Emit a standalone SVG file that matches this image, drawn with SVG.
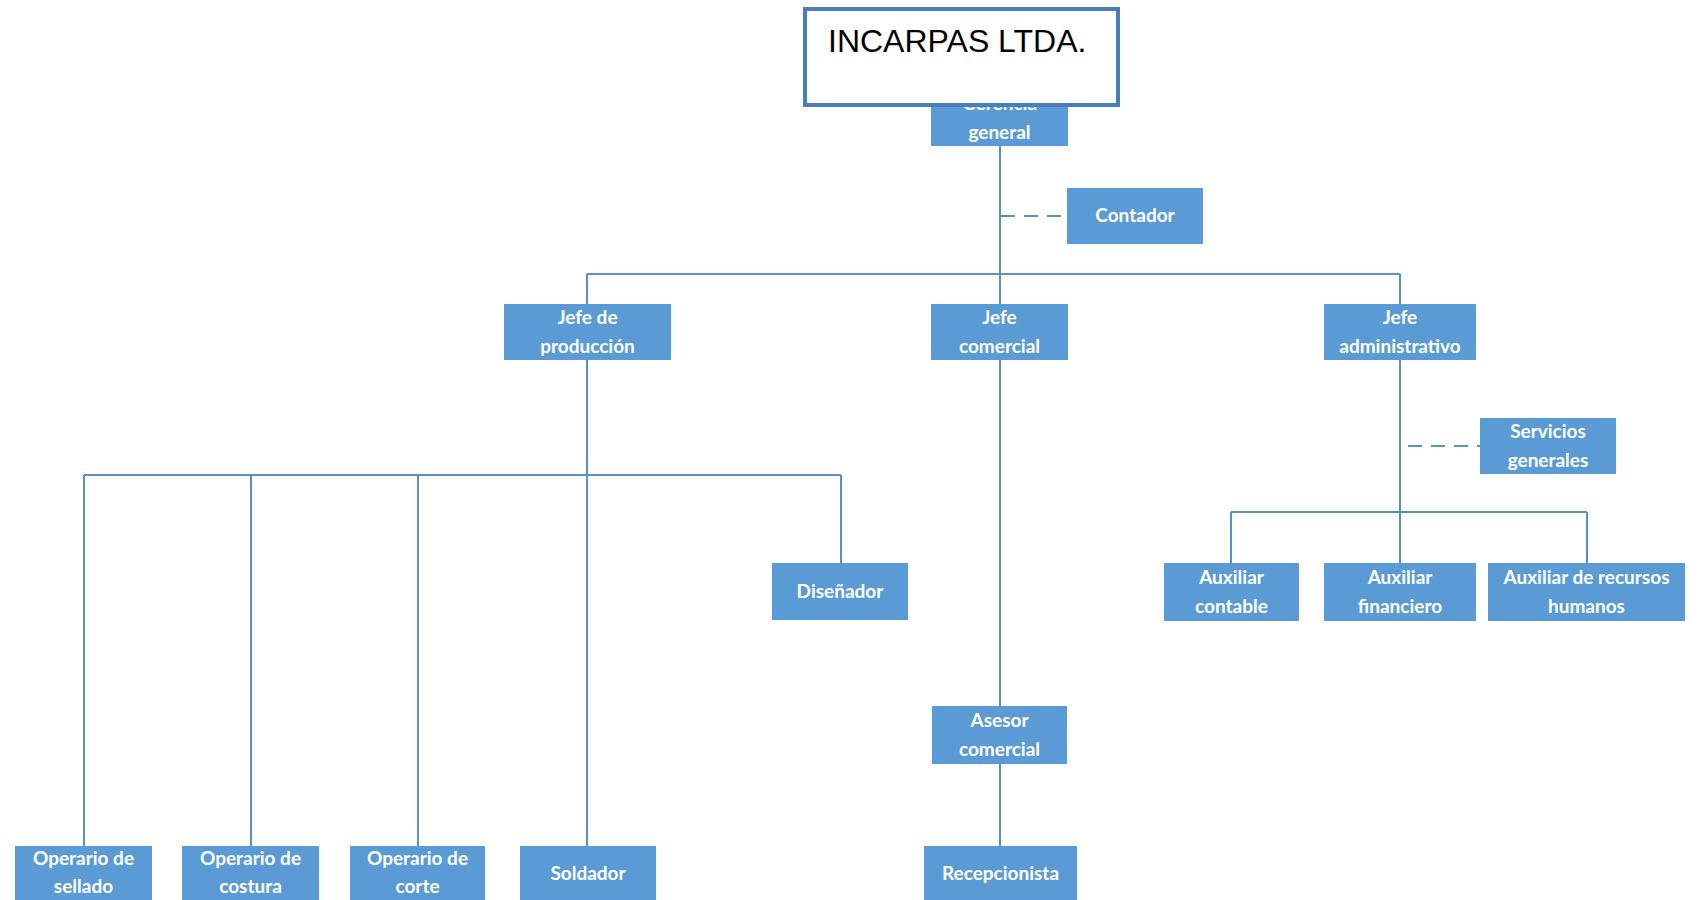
<svg xmlns="http://www.w3.org/2000/svg" width="1699" height="900" viewBox="0 0 1699 900">
  <style>
    .box { fill: #5b9bd5; }
    .lbl { font-family: Lato, "Open Sans", "Liberation Sans", sans-serif; font-size: 19px; font-weight: bold; fill: #ffffff; text-anchor: middle; }
    .ln { stroke: #5b8fc9; stroke-width: 2; fill: none; }
    .dash { stroke: #5b8fc9; stroke-width: 2; fill: none; stroke-dasharray: 14 9; }
    .title { fill: #ffffff; stroke: #4a7ebb; stroke-width: 4; }
    .ttl { font-family: "Liberation Sans", Arial, sans-serif; font-size: 32px; fill: #000000; }
  </style>
  <rect width="1699" height="900" fill="#ffffff"/>

  <g id="connectors">
    <!-- top level trunk -->
    <line class="ln" x1="1000" y1="146" x2="1000" y2="304"/>
    <line class="dash" x1="1001" y1="216" x2="1067" y2="216"/>
    <line class="ln" x1="587" y1="274" x2="1400" y2="274"/>
    <line class="ln" x1="587" y1="274" x2="587" y2="304"/>
    <line class="ln" x1="1400" y1="274" x2="1400" y2="304"/>
    <!-- production branch -->
    <line class="ln" x1="587" y1="360" x2="587" y2="846"/>
    <line class="ln" x1="84" y1="475" x2="841" y2="475"/>
    <line class="ln" x1="84" y1="475" x2="84" y2="846"/>
    <line class="ln" x1="251" y1="475" x2="251" y2="846"/>
    <line class="ln" x1="418" y1="475" x2="418" y2="846"/>
    <line class="ln" x1="841" y1="475" x2="841" y2="563"/>
    <!-- commercial branch -->
    <line class="ln" x1="1000" y1="360" x2="1000" y2="706"/>
    <line class="ln" x1="1000" y1="764" x2="1000" y2="846"/>
    <!-- administrative branch -->
    <line class="ln" x1="1400" y1="360" x2="1400" y2="563"/>
    <line class="dash" x1="1408" y1="446" x2="1480" y2="446"/>
    <line class="ln" x1="1231" y1="512" x2="1587" y2="512"/>
    <line class="ln" x1="1231" y1="512" x2="1231" y2="563"/>
    <line class="ln" x1="1587" y1="512" x2="1587" y2="563"/>
  </g>

  <g id="gerencia">
    <rect class="box" x="931" y="90" width="137" height="56"/>
    <text class="lbl" x="999.5" y="110">Gerencia</text>
    <text class="lbl" x="999.5" y="139">general</text>
  </g>
  <g id="contador">
    <rect class="box" x="1067" y="188" width="136" height="56"/>
    <text class="lbl" x="1135" y="222">Contador</text>
  </g>
  <g id="jefe-produccion">
    <rect class="box" x="504" y="304" width="167" height="56"/>
    <text class="lbl" x="587.5" y="324">Jefe de</text>
    <text class="lbl" x="587.5" y="353">producción</text>
  </g>
  <g id="jefe-comercial">
    <rect class="box" x="931" y="304" width="137" height="56"/>
    <text class="lbl" x="999.5" y="324">Jefe</text>
    <text class="lbl" x="999.5" y="353">comercial</text>
  </g>
  <g id="jefe-administrativo">
    <rect class="box" x="1324" y="304" width="152" height="56"/>
    <text class="lbl" x="1400" y="324">Jefe</text>
    <text class="lbl" x="1400" y="353">administrativo</text>
  </g>
  <g id="servicios-generales">
    <rect class="box" x="1480" y="418" width="136" height="56"/>
    <text class="lbl" x="1548" y="438">Servicios</text>
    <text class="lbl" x="1548" y="467">generales</text>
  </g>
  <g id="disenador">
    <rect class="box" x="772" y="563" width="136" height="57"/>
    <text class="lbl" x="840" y="598">Diseñador</text>
  </g>
  <g id="auxiliar-contable">
    <rect class="box" x="1164" y="563" width="135" height="58"/>
    <text class="lbl" x="1231.5" y="584">Auxiliar</text>
    <text class="lbl" x="1231.5" y="613">contable</text>
  </g>
  <g id="auxiliar-financiero">
    <rect class="box" x="1324" y="563" width="152" height="58"/>
    <text class="lbl" x="1400" y="584">Auxiliar</text>
    <text class="lbl" x="1400" y="613">financiero</text>
  </g>
  <g id="auxiliar-rrhh">
    <rect class="box" x="1488" y="563" width="197" height="58"/>
    <text class="lbl" x="1586.5" y="584">Auxiliar de recursos</text>
    <text class="lbl" x="1586.5" y="613">humanos</text>
  </g>
  <g id="asesor-comercial">
    <rect class="box" x="932" y="706" width="135" height="58"/>
    <text class="lbl" x="999.5" y="727">Asesor</text>
    <text class="lbl" x="999.5" y="756">comercial</text>
  </g>
  <g id="recepcionista">
    <rect class="box" x="924" y="846" width="153" height="58"/>
    <text class="lbl" x="1000.5" y="880">Recepcionista</text>
  </g>
  <g id="operario-sellado">
    <rect class="box" x="15" y="846" width="137" height="58"/>
    <text class="lbl" x="83.5" y="865">Operario de</text>
    <text class="lbl" x="83.5" y="893">sellado</text>
  </g>
  <g id="operario-costura">
    <rect class="box" x="182" y="846" width="137" height="58"/>
    <text class="lbl" x="250.5" y="865">Operario de</text>
    <text class="lbl" x="250.5" y="893">costura</text>
  </g>
  <g id="operario-corte">
    <rect class="box" x="350" y="846" width="135" height="58"/>
    <text class="lbl" x="417.5" y="865">Operario de</text>
    <text class="lbl" x="417.5" y="893">corte</text>
  </g>
  <g id="soldador">
    <rect class="box" x="520" y="846" width="136" height="58"/>
    <text class="lbl" x="588" y="880">Soldador</text>
  </g>

  <g id="titulo">
    <rect class="title" x="805" y="9" width="313" height="96"/>
    <text class="ttl" x="828" y="52">INCARPAS LTDA.</text>
  </g>
</svg>
